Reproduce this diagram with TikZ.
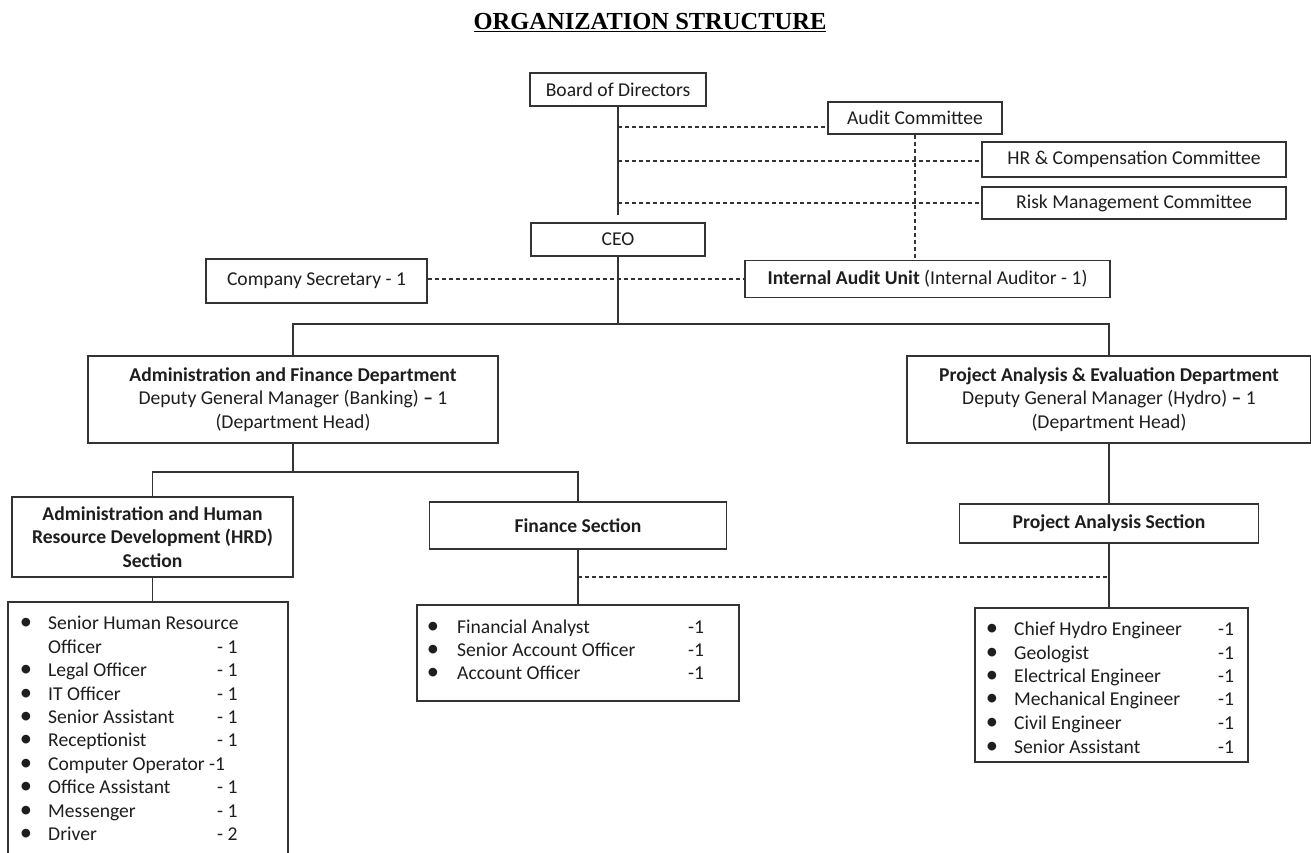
\documentclass[tikz,border=0pt]{standalone}
\usepackage{fontspec}
\setmainfont{Carlito}
\newfontfamily\titlefont{Liberation Serif}
\newcommand\bodyfont{\fontsize{19.6}{23.4}\selectfont}
\definecolor{lc}{HTML}{333333}
\definecolor{tc}{HTML}{1E1E1E}
\tikzset{
  box/.style={draw=lc, line width=1.3pt, inner sep=0pt, align=center, font=\bodyfont, text=tc},
  ln/.style={draw=lc, line width=1.3pt},
  dln/.style={draw=lc, line width=1.2pt, dash pattern=on 4pt off 3pt},
  txt/.style={anchor=base west, inner sep=0pt, font=\bodyfont, text=tc},
  bul/.style={anchor=base, inner sep=0pt, font=\bodyfont, text=tc},
}
\newcommand\lrow[7]{%
  \node[bul] (#1b) at (#2,#5) {\scalebox{1.25}{•}};
  \node[txt] (#1t) at (#3,#5) {#6};
  \node[txt] (#1n) at (#4,#5) {#7};}
\begin{document}
\begin{tikzpicture}[x=1pt,y=-1pt]
\useasboundingbox (0,0) rectangle (1311,853);
\fill[white] (0,0) rectangle (1311,853);
\clip (0,0) rectangle (1311,853);

% title
\node[anchor=base, inner sep=0pt, font=\titlefont\bfseries\fontsize{24.5}{28}\selectfont] (title) at (650,29.5) {\underline{ORGANIZATION STRUCTURE}};

% boxes
\node[box, minimum width=176, minimum height=33] (board) at (618,89.5) {Board of Directors};
\node[box, minimum width=174, minimum height=32] (audit) at (915,118) {Audit Committee};
\node[box, minimum width=304, minimum height=35] (hrc) at (1134,159.5) {HR \& Compensation Committee};
\node[box, minimum width=304, minimum height=32] (risk) at (1134,203) {\raisebox{-4pt}{Risk Management Committee}};
\node[box, minimum width=174, minimum height=33] (ceo) at (618,239.5) {CEO};
\node[box, minimum width=221, minimum height=44] (sec) at (316.5,281) {Company Secretary - 1};
\node[box, minimum width=365, minimum height=37] (iau) at (927.5,279) {\textbf{Internal Audit Unit} (Internal Auditor - 1)};
\node[box, minimum width=410, minimum height=87] (afd) at (293,399.5) {\textbf{Administration and Finance Department}\\Deputy General Manager (Banking) {\bfseries –} 1\\(Department Head)};
\node[box, minimum width=404, minimum height=87] (pae) at (1109,399.5) {\textbf{Project Analysis \& Evaluation Department}\\Deputy General Manager (Hydro) {\bfseries –} 1\\(Department Head)};
\node[box, minimum width=281, minimum height=80, font=\bodyfont\bfseries] (hrd) at (152.5,537) {Administration and Human\\Resource Development (HRD)\\Section};
\node[box, minimum width=297, minimum height=47, font=\bodyfont\bfseries] (fin) at (578,525.5) {Finance Section};
\node[box, minimum width=299, minimum height=39, font=\bodyfont\bfseries] (pas) at (1109,523.5) {Project Analysis Section};
\node[box, minimum width=280, minimum height=298] (hrdl) at (148,751) {};
\node[box, minimum width=322, minimum height=96] (finl) at (578,653) {};
\node[box, minimum width=273, minimum height=154] (pasl) at (1111.5,685) {};

% connectors
\coordinate (j1) at (618,127);
\coordinate (j2) at (618,161);
\coordinate (j3) at (618,203);
\draw[ln, shorten >=7pt] (board.south) -- (ceo.north);
\draw[dln] (j1) -- (j1 -| audit.west);
\draw[dln] (j2) -- (j2 -| hrc.west);
\draw[dln] (j3) -- (j3 -| risk.west);
\draw[dln] (audit.south) -- (audit.south |- iau.north);
\draw[dln] (iau.west -| sec.east) -- (iau.west);
\coordinate (busA) at (0,324);
\draw[ln] (ceo.south) -- (ceo.south |- busA);
\draw[ln] (afd.north) -- (afd.north |- busA) -- (pae.north |- busA) -- (pae.north);
\coordinate (busB) at (0,472);
\draw[ln] (afd.south) -- (afd.south |- busB);
\draw[ln] (hrd.north) -- (hrd.north |- busB) -- (fin.north |- busB) -- (fin.north);
\draw[ln] (hrd.south) -- (hrd.south |- hrdl.north);
\draw[ln] (fin.south) -- (fin.south |- finl.north);
\draw[ln] (pae.south) -- (pae.south |- pas.north);
\draw[ln] (pas.south) -- (pas.south |- pasl.north);
\coordinate (dy) at (0,577);
\draw[dln] (fin.south |- dy) -- (pas.south |- dy);

% HRD list
\lrow{ha}{26}{48}{217}{629.5}{Senior Human Resource}{}
\node[txt] (hbt) at (48,653) {Officer};
\node[txt] (hbn) at (217,653) {- 1};
\lrow{hc}{26}{48}{217}{676.5}{Legal Officer}{- 1}
\lrow{hd}{26}{48}{217}{700}{IT Officer}{- 1}
\lrow{he}{26}{48}{217}{723}{Senior Assistant}{- 1}
\lrow{hf}{26}{48}{217}{746.5}{Receptionist}{- 1}
\lrow{hg}{26}{48}{209}{770}{Computer Operator}{-1}
\lrow{hh}{26}{48}{217}{793.5}{Office Assistant}{- 1}
\lrow{hi}{26}{48}{217}{817}{Messenger}{- 1}
\lrow{hj}{26}{48}{217}{840}{Driver}{- 2}

% Finance list
\lrow{fa}{433}{457}{688}{633.5}{Financial Analyst}{-1}
\lrow{fb}{433}{457}{688}{656.5}{Senior Account Officer}{-1}
\lrow{fc}{433}{457}{688}{679.5}{Account Officer}{-1}

% Project analysis list
\lrow{pa}{992}{1014}{1218}{635.5}{Chief Hydro Engineer}{-1}
\lrow{pb}{992}{1014}{1218}{659.5}{Geologist}{-1}
\lrow{pc}{992}{1014}{1218}{682.5}{Electrical Engineer}{-1}
\lrow{pd}{992}{1014}{1218}{705.5}{Mechanical Engineer}{-1}
\lrow{pe}{992}{1014}{1218}{729.5}{Civil Engineer}{-1}
\lrow{pf}{992}{1014}{1218}{753.5}{Senior Assistant}{-1}
\end{tikzpicture}
\end{document}
